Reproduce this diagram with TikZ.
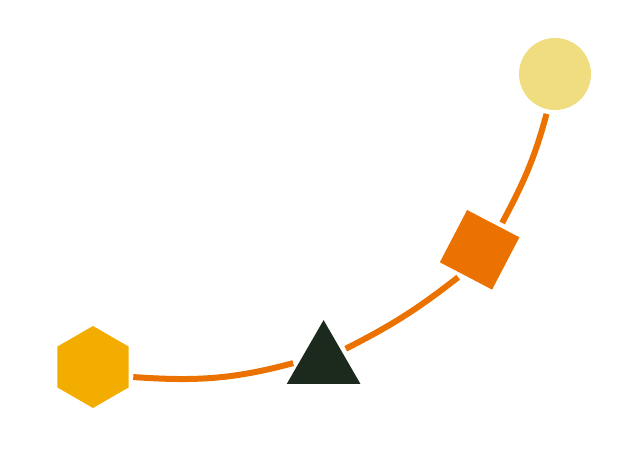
\documentclass[tikz,border=0pt]{standalone}
\usetikzlibrary{shapes.geometric}
\definecolor{hexyellow}{HTML}{F3AD00}
\definecolor{trackorange}{HTML}{EB7100}
\definecolor{sand}{HTML}{EFDD80}
\definecolor{darkgreen}{HTML}{1B2A1C}
\begin{document}
\begin{tikzpicture}[piece/.style={inner sep=0pt,outer sep=0.12cm},
	track/.style={line width=0.15cm,draw=trackorange}]
	\useasboundingbox (0,0) rectangle (15.85,11.325);
	\node[piece,regular polygon,regular polygon sides=6,shape border rotate=30,minimum size=2.05cm,fill=hexyellow] (hex) at (2.325,2.15) {};
	\node[piece,regular polygon,regular polygon sides=3,minimum size=2.125cm,fill=darkgreen] (tri) at (8.09,2.26) {};
	\node[piece,regular polygon,regular polygon sides=4,shape border rotate=-27.6,minimum size=2.085cm,fill=trackorange] (sq) at (11.99,5.08) {};
	\node[piece,circle,minimum size=1.8cm,fill=sand] (circ) at (13.875,9.475) {};
	\draw[track] (hex.-14) to[out=-4,in=195] (tri.181);
	\draw[track] (tri.32) to[out=27,in=218] (sq.232);
	\draw[track] (sq.50) to[out=62,in=255] (circ.258);
\end{tikzpicture}
\end{document}
